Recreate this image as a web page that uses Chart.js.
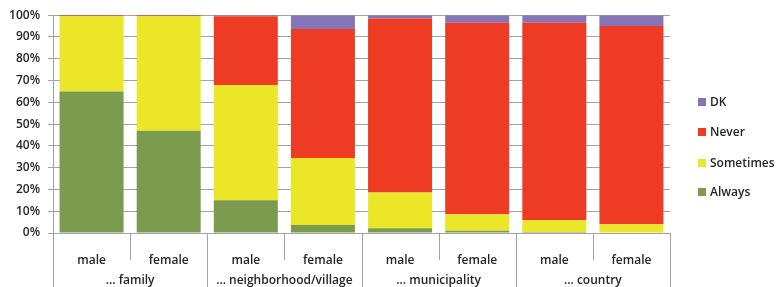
<!DOCTYPE html>
<html>
<head>
<meta charset="utf-8">
<script src="https://cdn.jsdelivr.net/npm/chart.js@4/dist/chart.umd.min.js"></script>
<style>
  html, body { margin: 0; padding: 0; background: #fff; }
  #wrap { width: 778px; height: 287px; position: relative; }
</style>
</head>
<body>
<div id="wrap"><canvas id="myChart"></canvas></div>
<script>
// categories
const sexes = ['male', 'female', 'male', 'female', 'male', 'female', 'male', 'female'];
const groups = ['\u2026 family', '\u2026 neighborhood/village', '\u2026 municipality', '\u2026 country'];
const yTicks = [0, 10, 20, 30, 40, 50, 60, 70, 80, 90, 100];

// series values (percent)
const always    = [65,   47,   15,   3.7,  2.2,  1,    0.5,  0];
const sometimes = [34.5, 52.5, 53,   30.7, 16.4, 7.6,  5.3,  4];
const never     = [0.5,  0.5,  31.5, 59.3, 79.9, 87.9, 90.7, 91];
const dk        = [0,    0,    0.5,  6.3,  1.5,  3.5,  3.5,  5];

const seriesNames = ['Always', 'Sometimes', 'Never', 'DK'];
const seriesColors = ['#7b9b4f', '#ebe628', '#ee3b24', '#8675b6'];

const font = '"Open Sans", "DejaVu Sans", sans-serif';
const textColor = '#262626';
const lineColor = '#a3a3a3';

// rows under the axis and the legend
const extraLabels = {
    id: 'extraLabels',
    afterDraw(chart) {
        const ctx = chart.ctx;
        const x = chart.scales.x;
        const area = chart.chartArea;
        const half = (x.getPixelForValue(1) - x.getPixelForValue(0)) / 2;
        ctx.save();
        ctx.strokeStyle = lineColor;
        ctx.lineWidth = 1;
        for (let i = 0; i <= sexes.length; i++) {
            const px = Math.round(x.getPixelForValue(i) - half) + 0.5;
            const end = (i % 2 === 0) ? chart.height : area.bottom + 27;
            ctx.beginPath();
            ctx.moveTo(px, area.bottom);
            ctx.lineTo(px, end);
            ctx.stroke();
        }
        ctx.fillStyle = textColor;
        ctx.font = '600 12px ' + font;
        ctx.textAlign = 'center';
        ctx.textBaseline = 'middle';
        groups.forEach((g, i) => {
            const cx = (x.getPixelForValue(i * 2) + x.getPixelForValue(i * 2 + 1)) / 2;
            ctx.fillText(g, cx, area.bottom + 48);
        });

        // legend, top item first
        ctx.textAlign = 'left';
        const legendY = [192, 163, 132, 102];
        seriesNames.forEach((name, i) => {
            ctx.fillStyle = seriesColors[i];
            ctx.fillRect(698, legendY[i] - 4, 8, 8);
            ctx.fillStyle = textColor;
            ctx.fillText(name, 710, legendY[i] + 1);
        });
        ctx.restore();
    }
};

const ctx = document.getElementById('myChart').getContext('2d');
const myChart = new Chart(ctx, {
    type: 'bar',
    data: {
        labels: sexes,
        datasets: [always, sometimes, never, dk].map((d, i) => ({
            label: seriesNames[i],
            data: d,
            backgroundColor: seriesColors[i],
            borderWidth: 0,
            barPercentage: 0.83,
            categoryPercentage: 1
        }))
    },
    options: {
        responsive: true,
        maintainAspectRatio: false,
        animation: false,
        layout: { padding: { top: 15, right: 108, left: 0, bottom: 0 } },
        plugins: {
            legend: { display: false },
            tooltip: { enabled: false }
        },
        scales: {
            x: {
                stacked: true,
                grid: { display: false },
                border: { color: lineColor },
                ticks: {
                    color: textColor,
                    font: { family: font, size: 12, weight: '600' },
                    padding: 12,
                    maxRotation: 0
                },
                afterFit(scale) { scale.height = 54; }
            },
            y: {
                stacked: true,
                min: 0,
                max: 100,
                afterBuildTicks(scale) { scale.ticks = yTicks.map(v => ({ value: v })); },
                grid: { color: lineColor, tickLength: 5 },
                border: { color: lineColor },
                ticks: {
                    color: textColor,
                    font: { family: font, size: 12, weight: '600' },
                    padding: 8,
                    callback: v => v + '%'
                },
                afterFit(scale) { scale.width = 53; }
            }
        }
    },
    plugins: [extraLabels]
});
</script>
</body>
</html>
